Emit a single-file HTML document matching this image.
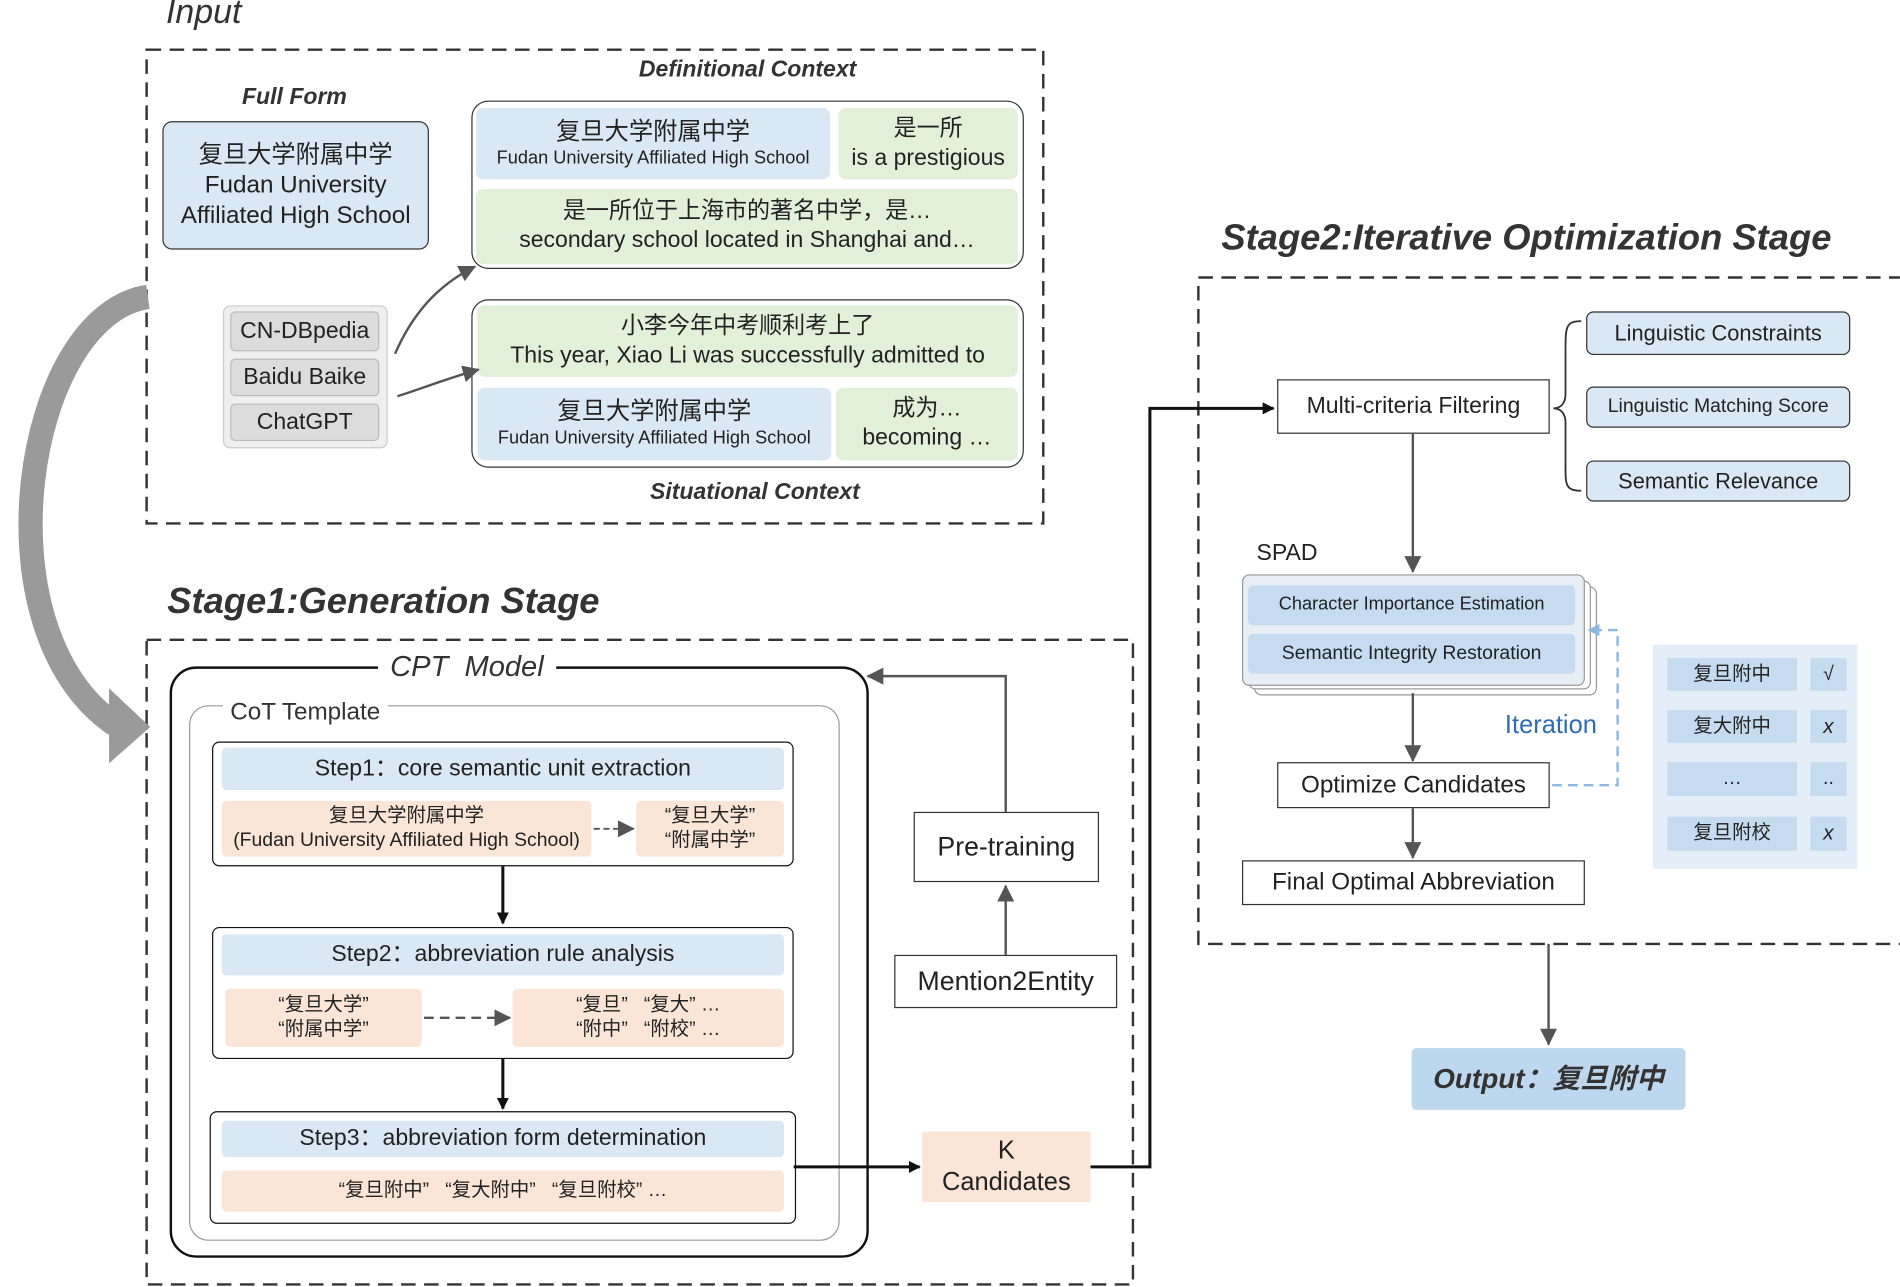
<!DOCTYPE html>
<html><head><meta charset="utf-8">
<style>
html,body{margin:0;padding:0;background:#fff;}
body{width:1900px;height:1287px;overflow:hidden;}
#s{position:absolute;left:0;top:0;width:1568px;height:1062px;transform:scale(1.2117);transform-origin:0 0;font-family:"Liberation Sans","Noto Sans CJK SC",sans-serif;color:#222;}
.a{position:absolute;box-sizing:border-box;}
.c{display:flex;flex-direction:column;align-items:center;justify-content:center;text-align:center;line-height:1.25;}
.blue{background:#dae8f5;}
.green{background:#e2efd9;}
.or{background:#fbe5d6;}
.bx{border:1.5px solid #333;border-radius:6px;}
.ti{font-style:italic;font-weight:bold;color:#333;}
</style></head><body><div id="s">

<!-- Input -->
<div class="a" style="left:137px;top:-6px;font-size:28px;font-style:italic;color:#333">Input</div>
<div class="a ti" style="left:183px;top:70px;width:120px;text-align:center;font-size:19px">Full Form</div>
<div class="a c blue" style="left:134px;top:100px;width:220px;height:106px;border:1.5px solid #333;border-radius:8px;font-size:20px">复旦大学附属中学<br>Fudan University<br>Affiliated High School</div>
<div class="a" style="left:184px;top:252px;width:136px;height:118px;background:#efefef;border:1px solid #ccc;border-radius:6px"></div>
<div class="a c" style="left:190px;top:257px;width:123px;height:33px;background:#dcdcdc;border:1px solid #bbb;border-radius:4px;font-size:19px">CN-DBpedia</div>
<div class="a c" style="left:190px;top:296px;width:123px;height:31px;background:#dcdcdc;border:1px solid #bbb;border-radius:4px;font-size:19px">Baidu Baike</div>
<div class="a c" style="left:190px;top:333px;width:123px;height:31px;background:#dcdcdc;border:1px solid #bbb;border-radius:4px;font-size:19px">ChatGPT</div>

<div class="a ti" style="left:467px;top:47px;width:300px;text-align:center;font-size:19px">Definitional Context</div>
<div class="a" style="left:389px;top:83px;width:456px;height:139px;border:1.5px solid #333;border-radius:14px;background:#fff"></div>
<div class="a c blue" style="left:393px;top:89px;width:292px;height:59px;border-radius:6px"><span style="font-size:20px">复旦大学附属中学</span><span style="font-size:15px">Fudan University Affiliated High School</span></div>
<div class="a c green" style="left:692px;top:89px;width:148px;height:59px;border-radius:6px;font-size:19px">是一所<br>is a prestigious</div>
<div class="a c green" style="left:393px;top:156px;width:447px;height:62px;border-radius:6px;font-size:19px">是一所位于上海市的著名中学，是…<br>secondary school located in Shanghai and…</div>

<div class="a" style="left:389px;top:247px;width:456px;height:139px;border:1.5px solid #333;border-radius:14px;background:#fff"></div>
<div class="a c green" style="left:394px;top:252px;width:446px;height:59px;border-radius:6px;font-size:19px">小李今年中考顺利考上了<br>This year, Xiao Li was successfully admitted to</div>
<div class="a c blue" style="left:394px;top:320px;width:292px;height:60px;border-radius:6px"><span style="font-size:20px">复旦大学附属中学</span><span style="font-size:15px">Fudan University Affiliated High School</span></div>
<div class="a c green" style="left:690px;top:320px;width:150px;height:60px;border-radius:6px;font-size:19px">成为…<br>becoming …</div>
<div class="a ti" style="left:473px;top:396px;width:300px;text-align:center;font-size:19px">Situational Context</div>

<!-- Stage1 -->
<div class="a ti" style="left:138px;top:480px;font-size:30px">Stage1:Generation Stage</div>
<div class="a" style="left:140px;top:550px;width:577px;height:488px;border:2px solid #111;border-radius:22px"></div>
<div class="a" style="left:312px;top:537px;padding:0 10px;background:#fff;font-size:24px;font-style:italic;color:#333">CPT&nbsp; Model</div>
<div class="a" style="left:156px;top:582px;width:537px;height:442px;border:1.5px solid #999;border-radius:16px"></div>
<div class="a" style="left:184px;top:577px;padding:0 6px;background:#fff;font-size:20px;color:#333">CoT Template</div>

<div class="a" style="left:175px;top:612px;width:480px;height:103px;border:1.5px solid #111;border-radius:6px;background:#fff"></div>
<div class="a c blue" style="left:183px;top:617px;width:464px;height:35px;border-radius:4px;font-size:19px">Step1：core semantic unit extraction</div>
<div class="a c or" style="left:183px;top:661px;width:305px;height:46px;border-radius:4px;font-size:16px">复旦大学附属中学<br>(Fudan University Affiliated High School)</div>
<div class="a c or" style="left:525px;top:661px;width:122px;height:46px;border-radius:4px;font-size:16px">“复旦大学”<br>“附属中学”</div>

<div class="a" style="left:175px;top:765px;width:480px;height:109px;border:1.5px solid #111;border-radius:6px;background:#fff"></div>
<div class="a c blue" style="left:183px;top:771px;width:464px;height:34px;border-radius:4px;font-size:19px">Step2：abbreviation rule analysis</div>
<div class="a c or" style="left:186px;top:816px;width:162px;height:48px;border-radius:4px;font-size:16px">“复旦大学”<br>“附属中学”</div>
<div class="a c or" style="left:423px;top:816px;width:224px;height:48px;border-radius:4px;font-size:16px">“复旦” &nbsp; “复大” …<br>“附中” &nbsp; “附校” …</div>

<div class="a" style="left:173px;top:917px;width:484px;height:93px;border:1.5px solid #111;border-radius:6px;background:#fff"></div>
<div class="a c blue" style="left:183px;top:925px;width:464px;height:30px;border-radius:4px;font-size:19px">Step3：abbreviation form determination</div>
<div class="a c or" style="left:183px;top:966px;width:464px;height:34px;border-radius:4px;font-size:16px">“复旦附中” &nbsp; “复大附中” &nbsp; “复旦附校” …</div>

<div class="a c or" style="left:761px;top:934px;width:139px;height:58px;font-size:21px">K<br>Candidates</div>
<div class="a c" style="left:754px;top:670px;width:153px;height:58px;border:1.5px solid #333;font-size:22px;background:#fff">Pre-training</div>
<div class="a c" style="left:738px;top:788px;width:184px;height:44px;border:1.5px solid #333;font-size:22px;background:#fff">Mention2Entity</div>

<!-- Stage2 -->
<div class="a ti" style="left:1008px;top:180px;font-size:30px">Stage2:Iterative Optimization Stage</div>
<div class="a c" style="left:1054px;top:313px;width:225px;height:45px;border:1.5px solid #333;font-size:19px;background:#fff">Multi-criteria Filtering</div>
<div class="a c blue bx" style="left:1309px;top:257px;width:218px;height:36px;font-size:18px">Linguistic Constraints</div>
<div class="a c blue bx" style="left:1309px;top:319px;width:218px;height:34px;font-size:16px">Linguistic Matching Score</div>
<div class="a c blue bx" style="left:1309px;top:380px;width:218px;height:34px;font-size:18px">Semantic Relevance</div>
<div class="a" style="left:1037px;top:446px;font-size:19px">SPAD</div>
<div class="a" style="left:1035px;top:484px;width:283px;height:90px;border:1px solid #999;border-radius:6px;background:#fff"></div>
<div class="a" style="left:1030px;top:479px;width:283px;height:90px;border:1px solid #999;border-radius:6px;background:#fff"></div>
<div class="a" style="left:1025px;top:474px;width:283px;height:92px;border:1px solid #999;border-radius:6px;background:#e8eef5"></div>
<div class="a c blue" style="left:1030px;top:483px;width:270px;height:33px;border-radius:4px;font-size:15px;background:#c5dcf0">Character Importance Estimation</div>
<div class="a c blue" style="left:1030px;top:523px;width:270px;height:33px;border-radius:4px;font-size:16px;background:#c5dcf0">Semantic Integrity Restoration</div>
<div class="a" style="left:1242px;top:587px;font-size:21px;color:#2e6db4">Iteration</div>
<div class="a c" style="left:1054px;top:629px;width:225px;height:38px;border:1.5px solid #333;font-size:20px;background:#fff">Optimize Candidates</div>
<div class="a c" style="left:1025px;top:710px;width:283px;height:37px;border:1.5px solid #333;font-size:20px;background:#fff">Final Optimal Abbreviation</div>

<div class="a" style="left:1364px;top:532px;width:169px;height:185px;background:#e4eef8"></div>
<div class="a c" style="left:1376px;top:543px;width:107px;height:27px;background:#c5dcf0;font-size:16px">复旦附中</div>
<div class="a c" style="left:1494px;top:543px;width:30px;height:27px;background:#c5dcf0;font-size:16px">√</div>
<div class="a c" style="left:1376px;top:586px;width:107px;height:27px;background:#c5dcf0;font-size:16px">复大附中</div>
<div class="a c" style="left:1494px;top:586px;width:30px;height:27px;background:#c5dcf0;font-size:17px;font-style:italic">x</div>
<div class="a c" style="left:1376px;top:629px;width:107px;height:28px;background:#c5dcf0;font-size:16px">…</div>
<div class="a c" style="left:1494px;top:629px;width:30px;height:28px;background:#c5dcf0;font-size:16px">..</div>
<div class="a c" style="left:1376px;top:674px;width:107px;height:28px;background:#c5dcf0;font-size:16px">复旦附校</div>
<div class="a c" style="left:1494px;top:674px;width:30px;height:28px;background:#c5dcf0;font-size:17px;font-style:italic">x</div>

<div class="a c" style="left:1165px;top:865px;width:226px;height:51px;background:#bdd7ee;border-radius:4px;font-size:23px;font-style:italic;font-weight:bold;color:#333">Output：复旦附中</div>

<svg class="a" style="left:0;top:0" width="1568" height="1062">
<defs>
<marker id="ar" markerWidth="10" markerHeight="10" refX="9" refY="5" orient="auto" markerUnits="userSpaceOnUse"><path d="M0,0 L10,5 L0,10 z" fill="#111"/></marker>
<marker id="ag" markerWidth="14" markerHeight="14" refX="13" refY="7" orient="auto" markerUnits="userSpaceOnUse"><path d="M0,0 L14,7 L0,14 z" fill="#555"/></marker>
<marker id="ab" markerWidth="10" markerHeight="10" refX="9" refY="5" orient="auto" markerUnits="userSpaceOnUse"><path d="M0,0 L10,5 L0,10 z" fill="#8fb8e0"/></marker>
</defs>
<g fill="none" stroke="#333" stroke-width="2" stroke-dasharray="12,7">
<rect x="121" y="41" width="740" height="391"/>
<rect x="121" y="528" width="814" height="532"/>
<rect x="989" y="229" width="590" height="550"/>
</g>
<path d="M122,245 C20,260 -20,520 95,598" stroke="#9a9a9a" stroke-width="20" fill="none"/>
<polygon points="90,568 124,600 90,630" fill="#9a9a9a"/>
<path d="M326,292 C340,260 360,236 392,220" stroke="#555" stroke-width="2" fill="none" marker-end="url(#ag)"/>
<path d="M328,327 C350,320 370,312 395,305" stroke="#555" stroke-width="2" fill="none" marker-end="url(#ag)"/>
<line x1="415" y1="715" x2="415" y2="762" stroke="#111" stroke-width="2.5" marker-end="url(#ar)"/>
<line x1="415" y1="874" x2="415" y2="915" stroke="#111" stroke-width="2.5" marker-end="url(#ar)"/>
<line x1="490" y1="684" x2="523" y2="684" stroke="#555" stroke-width="1.5" stroke-dasharray="5,3" marker-end="url(#ag)"/>
<line x1="350" y1="840" x2="421" y2="840" stroke="#555" stroke-width="2" stroke-dasharray="8,5" marker-end="url(#ag)"/>
<line x1="655" y1="963" x2="759" y2="963" stroke="#111" stroke-width="2.5" marker-end="url(#ar)"/>
<polyline points="900,963 949,963 949,337 1051,337" stroke="#111" stroke-width="2.5" fill="none" marker-end="url(#ar)"/>
<line x1="830" y1="788" x2="830" y2="731" stroke="#555" stroke-width="2" marker-end="url(#ag)"/>
<polyline points="830,670 830,558 716,558" stroke="#555" stroke-width="2" fill="none" marker-end="url(#ag)"/>
<line x1="1166" y1="358" x2="1166" y2="472" stroke="#555" stroke-width="2" marker-end="url(#ag)"/>
<line x1="1166" y1="572" x2="1166" y2="628" stroke="#555" stroke-width="2" marker-end="url(#ag)"/>
<line x1="1166" y1="667" x2="1166" y2="708" stroke="#555" stroke-width="2" marker-end="url(#ag)"/>
<line x1="1278" y1="779" x2="1278" y2="862" stroke="#555" stroke-width="2" marker-end="url(#ag)"/>
<polyline points="1281,648 1335,648 1335,520 1311,520" stroke="#8fb8e0" stroke-width="2" stroke-dasharray="8,5" fill="none" marker-end="url(#ab)"/>
<path d="M1305,265 C1292,265 1292,270 1292,290 L1292,325 C1292,333 1288,337 1282,337 C1288,337 1292,341 1292,349 L1292,385 C1292,400 1292,405 1305,405" stroke="#333" stroke-width="1.5" fill="none"/>
</svg>
</div></body></html>
